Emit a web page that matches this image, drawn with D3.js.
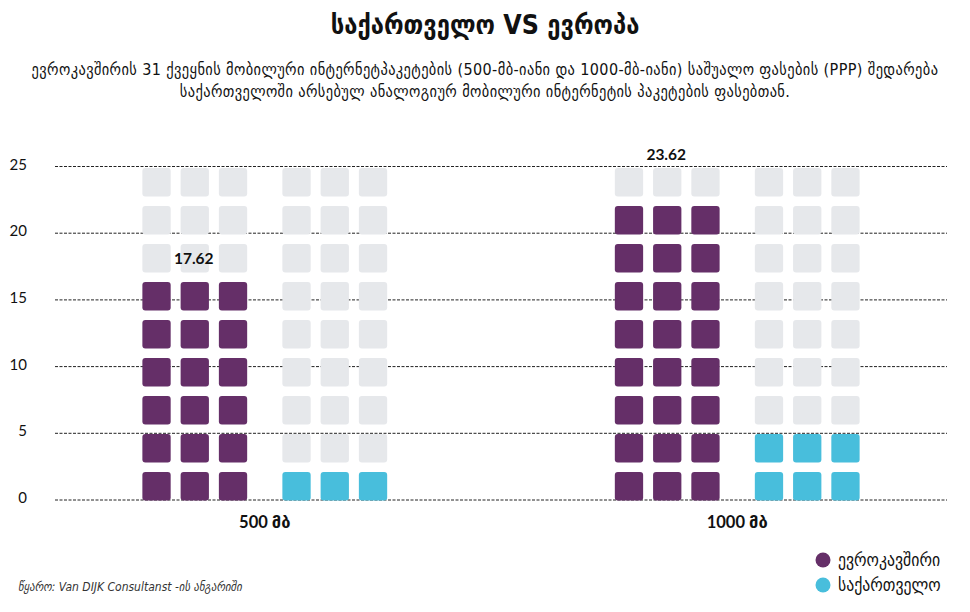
<!DOCTYPE html>
<html>
<head>
<meta charset="utf-8">
<script src="https://cdn.jsdelivr.net/npm/d3@7/dist/d3.min.js"></script>
<style>
  html, body { margin: 0; padding: 0; background: #fff; }
  svg { display: block; }
</style>
</head>
<body>
<svg id="chart" width="970" height="612"></svg>
<script>
// ---- data ----
const categories = ['500 მბ', '1000 მბ'];
const seriesNames = ['ევროკავშირი', 'საქართველო'];
const euValues = [17.62, 23.62];
const geoValues = [3.5, 6.5];
const yTicks = [0, 5, 10, 15, 20, 25];
const titleText = 'საქართველო VS ევროპა';
const subtitleLines = [
  'ევროკავშირის 31 ქვეყნის მობილური ინტერნეტპაკეტების (500-მბ-იანი და 1000-მბ-იანი) საშუალო ფასების (PPP) შედარება',
  'საქართველოში არსებულ ანალოგიურ მობილური ინტერნეტის პაკეტების ფასებთან.'
];
const sourceText = 'წყარო: Van DIJK Consultanst -ის ანგარიში';

const colors = { 'ევროკავშირი': '#652f68', 'საქართველო': '#48bedc' };
const emptyColor = '#e6e8eb';
const nRows = 9, nCols = 3;

const svg = d3.select('#chart');
const geoFont = "'DejaVu Sans Condensed', 'DejaVu Sans', sans-serif";
const numFont = "Lato, 'DejaVu Sans', sans-serif";

// ---- scales ----
const y = d3.scaleLinear().domain([0, 25]).range([499.5, 166]);
const unit = 25 / nRows;
const x0 = d3.scalePoint().domain(categories).range([55, 947]).padding(0.444);
const xSub = d3.scalePoint().domain(seriesNames).range([-70, 70]);
const xCol = d3.scaleBand().domain(d3.range(nCols)).range([-52.4, 52.4]).paddingInner(0.26).paddingOuter(0);
const rowScale = d3.scaleBand().domain(d3.range(nRows - 1, -1, -1))
  .range([y(25) + 2, y(0) + 1]).paddingInner(0.25).paddingOuter(0);

// ---- title ----
svg.append('text').attr('x', 485).attr('y', 34).attr('text-anchor', 'middle')
  .style('font-family', geoFont).style('font-weight', 'bold').style('font-size', '26.5px')
  .attr('fill', '#111').text(titleText);
svg.append('g').selectAll('text').data(subtitleLines).join('text')
  .attr('x', 485).attr('y', (d, i) => 75 + i * 22).attr('text-anchor', 'middle')
  .style('font-family', geoFont).style('font-size', '16px').style('letter-spacing', '0.4px')
  .attr('fill', '#111').text(d => d);

// ---- grid & axis ----
const yAxis = d3.axisLeft(y).tickValues(yTicks).tickSize(-(947 - 55)).tickFormat(d3.format('d'));
const gAxis = svg.append('g').attr('transform', 'translate(55,0)').call(yAxis);
gAxis.select('.domain').remove();
gAxis.selectAll('.tick line').attr('stroke', '#222').attr('stroke-width', 1).attr('stroke-dasharray', '3,1.5');
gAxis.selectAll('.tick text').attr('x', -28).attr('dy', '0.2em')
  .style('font-family', numFont).style('font-size', '15px').attr('fill', '#111');

// ---- waffle squares ----
const cells = [];
categories.forEach((c, ci) => {
  const vals = [euValues[ci], geoValues[ci]];
  seriesNames.forEach((s, si) => {
    const filled = Math.floor(vals[si] / unit);
    for (let r = 0; r < nRows; r++) {
      for (let k = 0; k < nCols; k++) {
        cells.push({ c, s, r, k, on: r < filled });
      }
    }
  });
});
svg.append('g').selectAll('rect').data(cells).join('rect')
  .attr('x', d => x0(d.c) + xSub(d.s) + xCol(d.k))
  .attr('y', d => rowScale(d.r))
  .attr('width', xCol.bandwidth())
  .attr('height', rowScale.bandwidth())
  .attr('rx', 3).attr('ry', 3)
  .attr('fill', d => d.on ? colors[d.s] : emptyColor);

// ---- value labels (EU) ----
svg.append('g').selectAll('text').data(categories).join('text')
  .attr('x', (c) => x0(c) + xSub(seriesNames[0]) + xCol(1) + xCol.bandwidth() / 2 - 1)
  .attr('y', (c, i) => {
    const idx = Math.round(euValues[i] / unit);
    return idx < nRows ? rowScale(idx) + rowScale.bandwidth() / 2 : rowScale(nRows - 1) - 13;
  })
  .attr('dy', '0.35em').attr('text-anchor', 'middle')
  .style('font-family', numFont).style('font-weight', 'bold').style('font-size', '15.5px')
  .attr('fill', '#111').text((c, i) => euValues[i].toFixed(2));

// ---- category labels ----
svg.append('g').selectAll('text').data(categories).join('text')
  .attr('x', c => x0(c)).attr('y', 528).attr('text-anchor', 'middle')
  .style('font-family', numFont).style('font-weight', 'bold').style('font-size', '16.5px')
  .attr('fill', '#111').text(c => c);

// ---- legend ----
const lg = svg.append('g').selectAll('g').data(seriesNames).join('g')
  .attr('transform', (d, i) => `translate(823,${560 + i * 25})`);
lg.append('circle').attr('r', 7.5).attr('fill', d => colors[d]);
lg.append('text').attr('x', 15).attr('dy', '0.35em')
  .style('font-family', geoFont).style('font-size', '17.5px').attr('fill', '#111').text(d => d);

// ---- source ----
svg.append('text').attr('x', 18).attr('y', 591)
  .style('font-family', geoFont).style('font-style', 'italic').style('font-size', '12px')
  .attr('fill', '#333').text(sourceText);
</script>
</body>
</html>
